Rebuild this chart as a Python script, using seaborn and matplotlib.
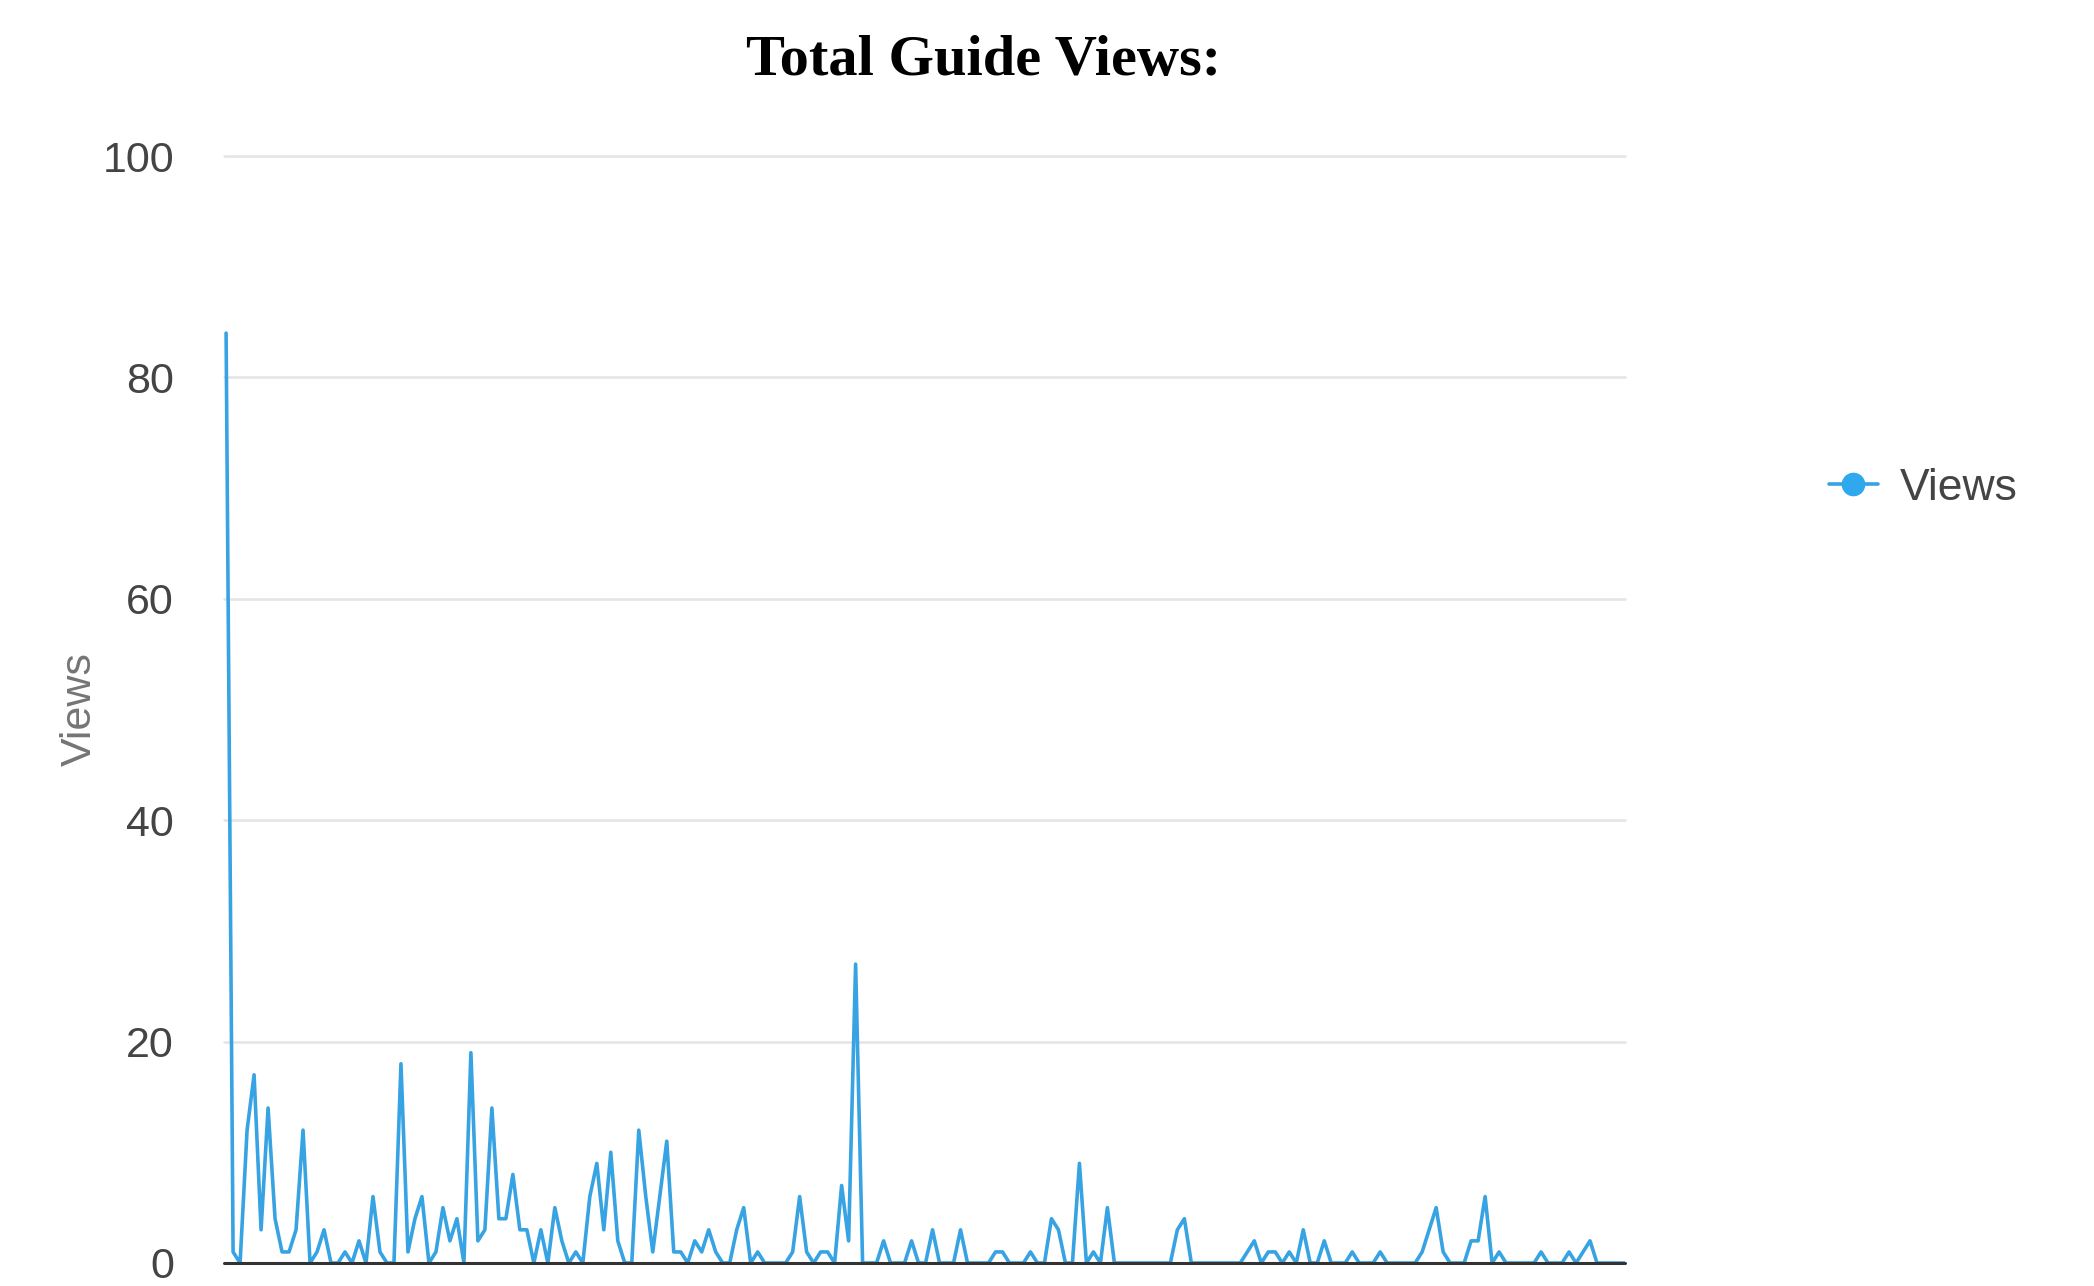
import matplotlib

matplotlib.use("Agg")

import matplotlib.pyplot as plt
import pandas as pd
import seaborn as sns
from matplotlib.lines import Line2D

# Daily guide views (201 days)
VIEWS = [
    84, 1, 0, 12, 17, 3, 14, 4, 1, 1,
    3, 12, 0, 1, 3, 0, 0, 1, 0, 2,
    0, 6, 1, 0, 0, 18, 1, 4, 6, 0,
    1, 5, 2, 4, 0, 19, 2, 3, 14, 4,
    4, 8, 3, 3, 0, 3, 0, 5, 2, 0,
    1, 0, 6, 9, 3, 10, 2, 0, 0, 12,
    6, 1, 6, 11, 1, 1, 0, 2, 1, 3,
    1, 0, 0, 3, 5, 0, 1, 0, 0, 0,
    0, 1, 6, 1, 0, 1, 1, 0, 7, 2,
    27, 0, 0, 0, 2, 0, 0, 0, 2, 0,
    0, 3, 0, 0, 0, 3, 0, 0, 0, 0,
    1, 1, 0, 0, 0, 1, 0, 0, 4, 3,
    0, 0, 9, 0, 1, 0, 5, 0, 0, 0,
    0, 0, 0, 0, 0, 0, 3, 4, 0, 0,
    0, 0, 0, 0, 0, 0, 1, 2, 0, 1,
    1, 0, 1, 0, 3, 0, 0, 2, 0, 0,
    0, 1, 0, 0, 0, 1, 0, 0, 0, 0,
    0, 1, 3, 5, 1, 0, 0, 0, 2, 2,
    6, 0, 1, 0, 0, 0, 0, 0, 1, 0,
    0, 0, 1, 0, 1, 2, 0, 0, 0, 0,
    0,
]
DAYS = list(range(len(VIEWS)))
Y_TICKS = [0, 20, 40, 60, 80, 100]

LINE_COLOR = "#38a3e2"
TEXT_COLOR = "#444444"

sns.set_theme(style="white")
plt.rcParams["font.family"] = ["Liberation Sans", "DejaVu Sans"]

df = pd.DataFrame({"day": DAYS, "views": VIEWS})

fig = plt.figure(figsize=(20.94, 12.86), dpi=100)
ax = fig.add_axes([224 / 2094, 1 - 1263 / 1286, (1625 - 224) / 2094, (1263 - 156) / 1286])

sns.lineplot(data=df, x="day", y="views", color=LINE_COLOR, linewidth=2.6, ax=ax, zorder=2)

ax.set_xlim(-0.3, 200)
ax.set_ylim(0, 100)
ax.set_yticks(Y_TICKS)
ax.set_xticks([])
for val in Y_TICKS[1:]:
    ax.axhline(val, color="#e4e4e4", linewidth=1.8, zorder=1, clip_on=False)
ax.axhline(0, color="#333333", linewidth=2.2, zorder=3, clip_on=False)
for side in ["top", "right", "left", "bottom"]:
    ax.spines[side].set_visible(False)

ax.tick_params(axis="y", length=0, pad=36, labelsize=31, labelcolor=TEXT_COLOR)
ax.set_xlabel("")
ax.set_ylabel("Views", fontsize=31, color="#757575", labelpad=2)

fig.text(
    984 / 2094, 1 - 75 / 1286, "Total Guide Views:",
    ha="center", va="baseline", fontsize=42, fontweight="bold",
    family=["Liberation Serif", "DejaVu Serif"], color="black",
)

handle = Line2D([], [], color=LINE_COLOR, linewidth=2.6, marker="o", markersize=16,
                markerfacecolor="#2fa8ee", markeredgecolor="#2fa8ee")
fig.legend(
    [handle], ["Views"], loc="center left", bbox_to_anchor=(1789 / 2094, 1 - 488 / 1286),
    frameon=False, fontsize=32, labelcolor=TEXT_COLOR, handlelength=1.1, handletextpad=0.5,
)

fig.savefig("out.png", dpi=100)
